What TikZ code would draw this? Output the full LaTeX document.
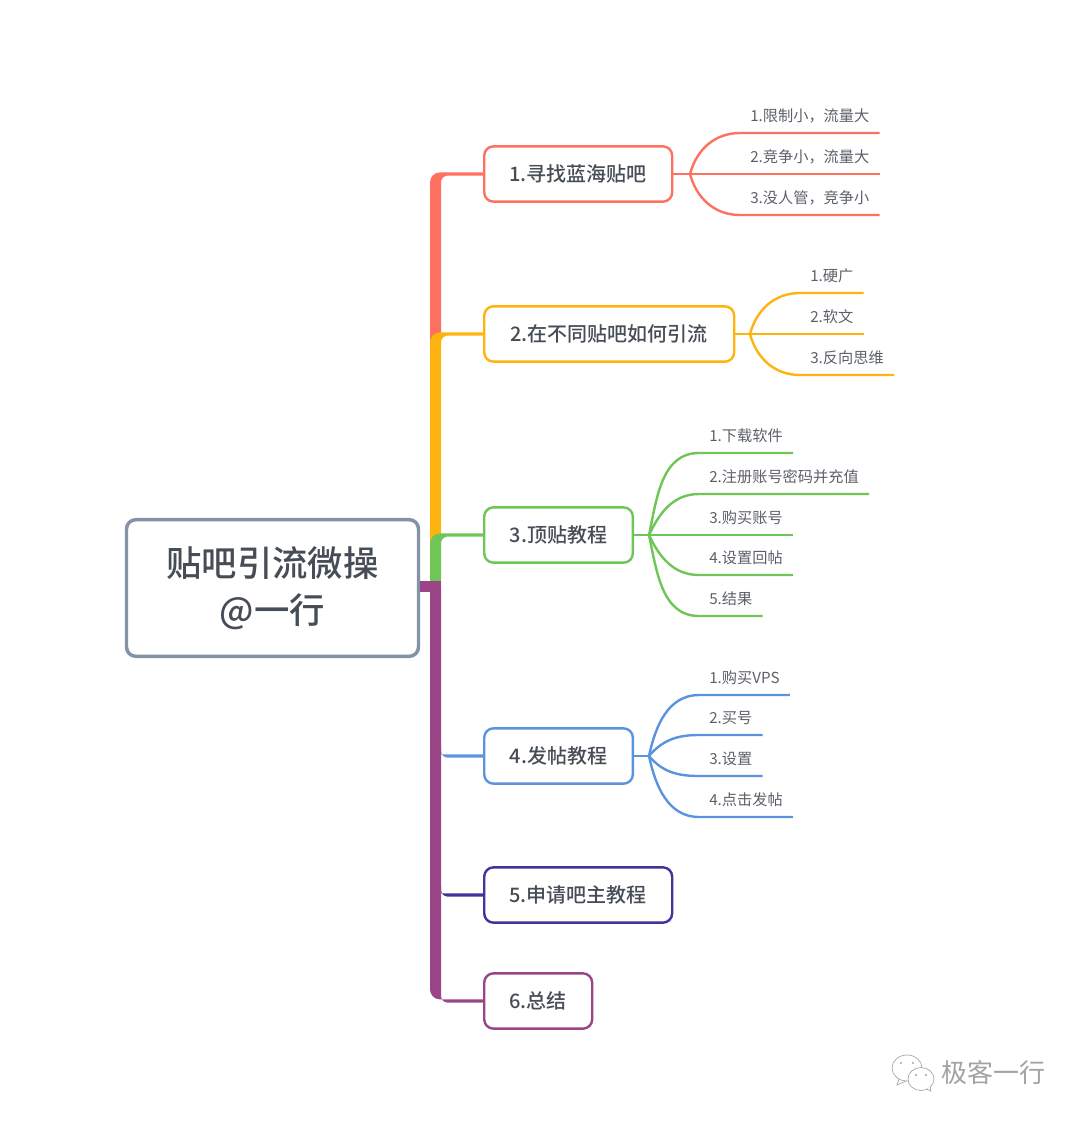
\documentclass[tikz,border=0pt]{standalone}
\usepackage{fontspec}
\setmainfont[BoldFont={Noto Sans CJK SC Medium}]{Noto Sans CJK SC}
\usetikzlibrary{positioning, calc}
\definecolor{mred}{HTML}{FE7060}
\definecolor{myellow}{HTML}{FFB30F}
\definecolor{mgreen}{HTML}{6FC556}
\definecolor{mblue}{HTML}{5A94DE}
\definecolor{mindigo}{HTML}{46309A}
\definecolor{mplum}{HTML}{9B4589}
\definecolor{mslate}{HTML}{8593A6}
\definecolor{minktext}{HTML}{474D56}
\definecolor{mleaftext}{HTML}{5B6068}
\definecolor{mmark}{HTML}{A3A3A3}
\tikzset{
  rootbox/.style={
    draw=mslate, fill=white, line width=2.6pt, rounded corners=7pt, align=center,
    minimum width=219pt, minimum height=102.5pt, text=minktext,
    font=\fontsize{26.5}{35.5}\selectfont\bfseries
  },
  topic/.style={
    draw=#1, fill=white, line width=1.8pt, rounded corners=7pt, anchor=west,
    minimum height=41.5pt, text=minktext, font=\fontsize{15}{18}\selectfont\bfseries
  },
  leaf/.style={
    anchor=south west, inner xsep=7.5pt, inner ysep=0pt, minimum height=25.5pt,
    text=mleaftext, font=\fontsize{11.4}{13}\selectfont
  },
  twig/.style={draw=#1, line width=1.8pt},
  bus/.style={fill=#1}
}
% one limb of the main stem, thick along x 430..441 and thin towards its box
\newcommand{\limb}[3]{
  \fill[bus=#1] (430,#3) [rounded corners=7.5pt] |- ([xshift=-12pt,yshift=1.2pt]#2.west) [sharp corners]
    -- ([yshift=1.2pt]#2.west) -- ([yshift=-1.2pt]#2.west) -- ([xshift=-12pt,yshift=-1.2pt]#2.west)
    [rounded corners=5pt] -| (441,#3) [sharp corners] -- cycle;
}
\begin{document}
\begin{tikzpicture}[x=0.75pt,y=-0.75pt]
  \useasboundingbox (0,0) rectangle (1080,1122);
  \node[rootbox] (root) at (272.5,588) {贴吧引流微操\\@一行};
  \node[topic=mred,minimum width=141pt] (t1) at (483,174) {1.寻找蓝海贴吧};
  \node[topic=myellow,minimum width=187.5pt] (t2) at (483,334) {2.在不同贴吧如何引流};
  \node[topic=mgreen,minimum width=111.5pt] (t3) at (483,535) {3.顶贴教程};
  \node[topic=mblue,minimum width=111.5pt] (t4) at (483,756) {4.发帖教程};
  \node[topic=mindigo,minimum width=141pt] (t5) at (483,895) {5.申请吧主教程};
  \node[topic=mplum,minimum width=81pt] (t6) at (483,1001) {6.总结};
  % stem, later limbs cover earlier ones
  \limb{mred}{t1}{345}
  \limb{myellow}{t2}{545}
  \limb{mgreen}{t3}{590}
  \limb{mblue}{t4}{740}
  \limb{mindigo}{t5}{880}
  \fill[bus=mplum] (420,581) rectangle (441,592);
  \limb{mplum}{t6}{581}
  % forks
  \coordinate (f1) at (690,174);
  \coordinate (f2) at (750,334);
  \coordinate (f3) at (649,535);
  \coordinate (f4) at (649,756);
  \draw[twig=mred] (t1.east) -- (f1);
  \draw[twig=myellow] (t2.east) -- (f2);
  \draw[twig=mgreen] (t3.east) -- (f3);
  \draw[twig=mblue] (t4.east) -- (f4);
  \foreach \nm/\y/\ang/\lab in {a1/133/75/{1.限制小，流量大}, a2/174/0/{2.竞争小，流量大}, a3/215/-75/{3.没人管，竞争小}} {
    \node[leaf] (\nm) at (740,\y) {\lab};
    \draw[twig=mred] (f1) to[out=\ang,in=180] (\nm.south west) -- (\nm.south east);
  }
  \foreach \nm/\y/\ang/\lab in {b1/293/75/{1.硬广}, b2/334/0/{2.软文}, b3/375/-75/{3.反向思维}} {
    \node[leaf] (\nm) at (800,\y) {\lab};
    \draw[twig=myellow] (f2) to[out=\ang,in=180] (\nm.south west) -- (\nm.south east);
  }
  \foreach \nm/\y/\ang/\lab in {c1/453/78/{1.下载软件}, c2/494/65/{2.注册账号密码并充值}, c3/535/0/{3.购买账号}, c4/575/-65/{4.设置回帖}, c5/616/-78/{5.结果}} {
    \node[leaf] (\nm) at (699,\y) {\lab};
    \draw[twig=mgreen] (f3) to[out=\ang,in=180] (\nm.south west) -- (\nm.south east);
  }
  \foreach \nm/\y/\ang/\lab in {d1/695/78/{1.购买VPS}, d2/735/50/{2.买号}, d3/776/-50/{3.设置}, d4/817/-78/{4.点击发帖}} {
    \node[leaf] (\nm) at (699,\y) {\lab};
    \draw[twig=mblue] (f4) to[out=\ang,in=180] (\nm.south west) -- (\nm.south east);
  }
  % watermark
  \draw[mmark,line width=0.5pt] (907,1068) ellipse (15 and 13);
  \draw[mmark,line width=0.5pt] (899,1079) -- (897,1085) -- (906,1081);
  \draw[mmark,line width=0.5pt,fill=white] (921,1079) ellipse (13 and 11.5);
  \draw[mmark,line width=0.5pt,fill=white] (927,1089) -- (931,1091) -- (930,1086);
  \foreach \px/\py in {901/1063, 913/1063, 916/1075, 926/1075}
    \fill[mmark] (\px,\py) circle (1.2);
  \node[text=mmark,font=\fontsize{19.5}{22}\selectfont,anchor=west,inner sep=0pt] (mark) at (941,1073) {极客一行};
\end{tikzpicture}
\end{document}
